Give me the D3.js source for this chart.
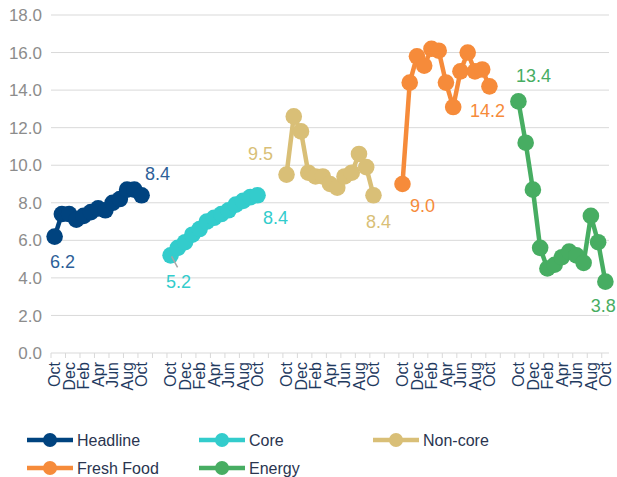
<!DOCTYPE html>
<html>
<head>
<meta charset="utf-8">
<script src="https://cdn.jsdelivr.net/npm/d3@7/dist/d3.min.js"></script>
<style>
  body { margin: 0; background: #fff; }
  svg { font-family: "Liberation Sans", Arial, sans-serif; }
</style>
</head>
<body>
<svg id="chart" width="617" height="477"></svg>
<script>
// data
var months = ["Oct","Nov","Dec","Jan","Feb","Mar","Apr","May","Jun","Jul","Aug","Sep","Oct"];
var seriesNames = ["Headline", "Core", "Non-core", "Fresh Food", "Energy"];
var headline  = [6.2, 7.4, 7.4, 7.1, 7.3, 7.5, 7.7, 7.6, 8.0, 8.2, 8.7, 8.7, 8.4];
var core      = [5.2, 5.6, 5.9, 6.3, 6.6, 7.0, 7.2, 7.4, 7.6, 7.9, 8.1, 8.3, 8.4];
var noncore   = [9.5, 12.6, 11.8, 9.6, 9.4, 9.4, 9.0, 8.8, 9.4, 9.6, 10.6, 9.9, 8.4];
var freshFood = [9.0, 14.4, 15.8, 15.3, 16.2, 16.1, 14.4, 13.1, 15.0, 16.0, 15.0, 15.1, 14.2];
var energy    = [13.4, 11.2, 8.7, 5.6, 4.5, 4.7, 5.1, 5.4, 5.2, 4.8, 7.3, 5.9, 3.8];
var yTicks = [0, 2, 4, 6, 8, 10, 12, 14, 16, 18];

var allValues = [headline, core, noncore, freshFood, energy];
var colors = ["#00437f", "#33cccc", "#d9bf77", "#f68b3a", "#47ad62"];
var labelColors = ["#2e5f98", "#33cccc", "#d9bf77", "#f68b3a", "#47ad62"];
// label offsets (dx, dy to baseline) for first and last point of each series
var labelPos = [
  [[8, 31], [16, -15]],
  [[8, 33], [18, 29]],
  [[-26, -15], [5, 33]],
  [[20, 28], [-2, 31]],
  [[15, -19], [-2, 30]]
];

var gap = 3; // blank categories between blocks
var block = months.length + gap;
var nCats = block * seriesNames.length - gap;

// category labels, blank in the gaps
var catLabels = [];
seriesNames.forEach(function(s, si) {
  months.forEach(function(m) { catLabels.push(m); });
  if (si < seriesNames.length - 1) for (var g = 0; g < gap; g++) catLabels.push("");
});

var svg = d3.select("#chart");
var plotLeft = 51, plotRight = 609, plotTop = 15, plotBottom = 353;

var x = d3.scaleBand().domain(d3.range(nCats)).range([plotLeft, plotRight]).padding(0);
var y = d3.scaleLinear().domain([0, 18]).range([plotBottom, plotTop]);
function cx(i) { return x(i) + x.bandwidth() / 2; }

// gridlines
svg.append("g").selectAll("line")
  .data(yTicks)
  .enter().append("line")
  .attr("x1", plotLeft).attr("x2", plotRight)
  .attr("y1", function(d) { return y(d); })
  .attr("y2", function(d) { return y(d); })
  .attr("stroke", "#d9d9d9")
  .attr("stroke-width", 1);

// y labels
svg.append("g").selectAll("text")
  .data(yTicks)
  .enter().append("text")
  .attr("x", 42)
  .attr("y", function(d) { return y(d); })
  .attr("dy", "0.36em")
  .attr("text-anchor", "end")
  .attr("fill", "#8c8c8c")
  .style("font-size", "17px")
  .text(function(d) { return d.toFixed(1); });

// x tick marks every 2 categories
var tickIdx = d3.range(0, nCats + 1, 2);
svg.append("g").selectAll("line")
  .data(tickIdx)
  .enter().append("line")
  .attr("x1", function(d) { return d < nCats ? x(d) : plotRight; })
  .attr("x2", function(d) { return d < nCats ? x(d) : plotRight; })
  .attr("y1", plotBottom).attr("y2", plotBottom + 5)
  .attr("stroke", "#d9d9d9");

// x labels (every other category)
svg.append("g").selectAll("text")
  .data(d3.range(0, nCats, 2).filter(function(i) { return catLabels[i] !== ""; }))
  .enter().append("text")
  .attr("transform", function(i) { return "translate(" + cx(i) + "," + (plotBottom + 9) + ") rotate(-90)"; })
  .attr("dy", "0.36em")
  .attr("text-anchor", "end")
  .attr("fill", "#1f3a5f")
  .style("font-size", "16px")
  .text(function(i) { return catLabels[i]; });

// series
var line = d3.line()
  .x(function(d) { return cx(d.i); })
  .y(function(d) { return y(d.v); });

allValues.forEach(function(vals, si) {
  var pts = vals.map(function(v, k) { return { i: si * block + k, v: v }; });
  var g = svg.append("g");
  g.append("path")
    .datum(pts)
    .attr("d", line)
    .attr("fill", "none")
    .attr("stroke", colors[si])
    .attr("stroke-width", 4.5)
    .attr("stroke-linejoin", "round");
  g.selectAll("circle")
    .data(pts)
    .enter().append("circle")
    .attr("cx", function(d) { return cx(d.i); })
    .attr("cy", function(d) { return y(d.v); })
    .attr("r", 8.3)
    .attr("fill", colors[si]);

  [0, pts.length - 1].forEach(function(k, j) {
    var p = pts[k];
    g.append("text")
      .attr("x", cx(p.i) + labelPos[si][j][0])
      .attr("y", y(p.v) + labelPos[si][j][1])
      .attr("text-anchor", "middle")
      .attr("fill", labelColors[si])
      .style("font-size", "18px")
      .text(p.v.toFixed(1));
  });
  if (si === 1) {
    // small leader line under the first core label
    svg.append("line")
      .attr("x1", cx(pts[0].i) + 1).attr("y1", y(pts[0].v) + 1)
      .attr("x2", cx(pts[0].i) + 7).attr("y2", y(pts[0].v) + 12)
      .attr("stroke", "#a6a6a6").attr("stroke-width", 1.5);
  }
});

// legend
var legendPos = [[27, 440], [199, 440], [373, 440], [27, 468], [199, 468]];
var legend = svg.append("g").selectAll("g")
  .data(seriesNames)
  .enter().append("g")
  .attr("transform", function(d, i) { return "translate(" + legendPos[i][0] + "," + legendPos[i][1] + ")"; });
legend.append("line")
  .attr("x1", 0).attr("x2", 46)
  .attr("stroke", function(d, i) { return colors[i]; })
  .attr("stroke-width", 4.5);
legend.append("circle")
  .attr("cx", 23).attr("r", 7)
  .attr("fill", function(d, i) { return colors[i]; });
legend.append("text")
  .attr("x", 50)
  .attr("dy", "0.35em")
  .attr("fill", "#2a3550")
  .style("font-size", "16px")
  .text(function(d) { return d; });
</script>
</body>
</html>
